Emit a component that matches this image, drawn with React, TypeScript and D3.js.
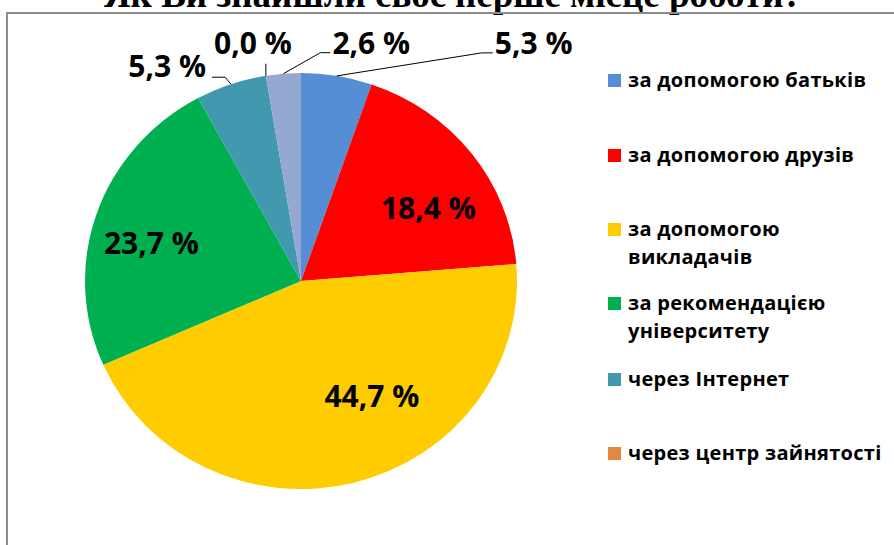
import React from "react";
import * as d3 from "d3";

const TITLE = "Як Ви знайшли своє перше місце роботи?";
const categories = [
  "за допомогою батьків",
  "за допомогою друзів",
  "за допомогою викладачів",
  "за рекомендацією університету",
  "через Інтернет",
  "через центр зайнятості",
  "інше",
];
const values = [5.3, 18.4, 44.7, 23.7, 5.3, 0.0, 2.6];
const valueLabels = ["5,3 %", "18,4 %", "44,7 %", "23,7 %", "5,3 %", "0,0 %", "2,6 %"];
const colors = ["#558ED5", "#FF0000", "#FFCC00", "#00B050", "#4198AF", "#E0893F", "#95A8D1"];
const legendLines = [
  ["за допомогою батьків"],
  ["за допомогою друзів"],
  ["за допомогою", "викладачів"],
  ["за рекомендацією", "університету"],
  ["через Інтернет"],
  ["через центр зайнятості"],
];
const legendRowY = [87, 162, 236, 310, 386, 460];

// label layout: inside labels offset from a point at 0.6R; outside labels with leader
type Lay = { inside: boolean; dx: number; dy: number; anchor: string; elbow?: [number, number]; end?: [number, number] };
const labelLayout: Lay[] = [
  { inside: false, dx: 158, dy: -22, anchor: "start", elbow: [145, -23], end: [156, -23] },
  { inside: true, dx: 25, dy: 14, anchor: "middle" },
  { inside: true, dx: 39, dy: 5, anchor: "middle" },
  { inside: true, dx: -27, dy: 13, anchor: "middle" },
  { inside: false, dx: -25, dy: -7, anchor: "end", elbow: [-6, -7], end: [-19, -7] },
  { inside: false, dx: -13, dy: -22, anchor: "middle", elbow: [0, -12], end: [0, -12] },
  { inside: false, dx: 49, dy: -20, anchor: "start", elbow: [37, -21], end: [47, -21] },
];

export default function App() {
  const W = 894, H = 545;
  const cx = 301, cy = 281, R = 208, sx = 216 / 208;
  const data = categories.map((c, i) => ({ name: c, value: values[i], i }));
  const pie = d3.pie<any>().sort(null).value((d) => d.value);
  const arcs = pie(data);
  const arc = d3.arc<any>().innerRadius(0).outerRadius(R);
  const pt = (a: number, r: number): [number, number] => [cx + sx * r * Math.sin(a), cy - r * Math.cos(a)];
  const labelFont = "'Open Sans', sans-serif";

  return (
    <svg width={W} height={H} style={{ position: "absolute", left: 0, top: 0, background: "#fff" }}>
      <text x={453} y={7} textAnchor="middle" fontFamily="'Liberation Serif', 'Times New Roman', serif" fontWeight="bold" fontSize={37} fill="#000">
        {TITLE}
      </text>
      <rect x={7} y={13} width={W + 20} height={H + 20} fill="none" stroke="#8c8c8c" strokeWidth={2} />
      <g transform={`translate(${cx},${cy}) scale(${sx},1)`}>
        {arcs.map((a, i) => (
          <path key={i} d={arc(a) || ""} fill={colors[i]} />
        ))}
      </g>
      {arcs.map((a, i) => {
        const mid = (a.startAngle + a.endAngle) / 2;
        const L = labelLayout[i];
        if (L.inside) {
          const [x, y] = pt(mid, R * 0.6);
          return (
            <text key={i} x={x + L.dx} y={y + L.dy} textAnchor={L.anchor as any} fontFamily={labelFont} fontWeight="bold" fontSize={30} fill="#000">
              {valueLabels[i]}
            </text>
          );
        }
        const [ex, ey] = pt(mid, R);
        const pts = [[ex, ey], [ex + L.elbow![0], ey + L.elbow![1]], [ex + L.end![0], ey + L.end![1]]];
        return (
          <g key={i}>
            <polyline points={pts.map((p) => p.join(",")).join(" ")} fill="none" stroke="#000" strokeWidth={1} />
            <text x={ex + L.dx} y={ey + L.dy} textAnchor={L.anchor as any} fontFamily={labelFont} fontWeight="bold" fontSize={30} fill="#000">
              {valueLabels[i]}
            </text>
          </g>
        );
      })}
      {legendLines.map((lines, i) => (
        <g key={i}>
          <rect x={608} y={legendRowY[i] - 13} width={13} height={13} fill={colors[i]} />
          {lines.map((t, j) => (
            <text key={j} x={628} y={legendRowY[i] + j * 28} fontFamily={labelFont} fontWeight="bold" fontSize={20} letterSpacing={0.3} fill="#000">
              {t}
            </text>
          ))}
        </g>
      ))}
    </svg>
  );
}
